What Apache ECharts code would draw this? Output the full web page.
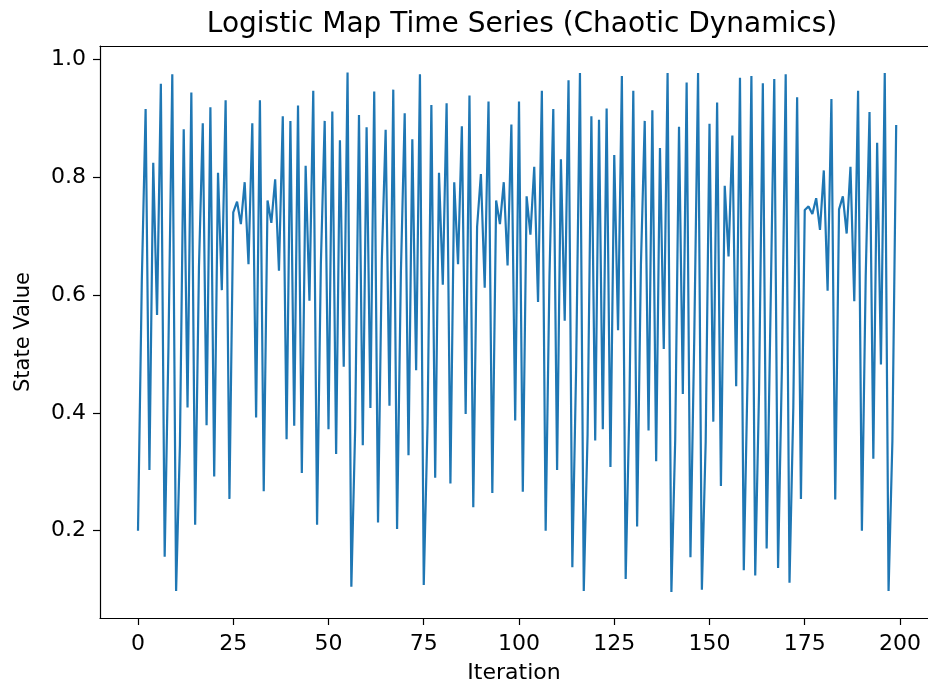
<!DOCTYPE html>
<html>
<head>
<meta charset="utf-8">
<script src="https://cdn.jsdelivr.net/npm/echarts@6/dist/echarts.min.js"></script>
<style>
  html, body { margin: 0; padding: 0; background: #fff; }
  #chart { width: 928px; height: 685px; }
</style>
</head>
<body>
<div id="chart"></div>
<script>
const titleText = 'Logistic Map Time Series (Chaotic Dynamics)';
const xName = 'Iteration';
const yName = 'State Value';
const xTicks = [0, 25, 50, 75, 100, 125, 150, 175, 200];
const yTicks = [0.2, 0.4, 0.6, 0.8, 1.0];
const stateValues = [
  0.200, 0.624, 0.915, 0.303, 0.824, 0.566, 0.958, 0.156, 0.514, 0.974,
  0.098, 0.345, 0.881, 0.409, 0.943, 0.210, 0.647, 0.891, 0.379, 0.918,
  0.292, 0.807, 0.608, 0.930, 0.254, 0.740, 0.758, 0.720, 0.791, 0.652,
  0.891, 0.392, 0.930, 0.267, 0.760, 0.722, 0.796, 0.641, 0.903, 0.355,
  0.895, 0.378, 0.921, 0.298, 0.819, 0.590, 0.946, 0.210, 0.654, 0.895,
  0.372, 0.911, 0.330, 0.862, 0.478, 0.977, 0.105, 0.373, 0.905, 0.345,
  0.884, 0.408, 0.945, 0.214, 0.660, 0.880, 0.412, 0.948, 0.203, 0.638,
  0.908, 0.328, 0.864, 0.472, 0.974, 0.108, 0.382, 0.922, 0.290, 0.807,
  0.617, 0.925, 0.280, 0.791, 0.652, 0.886, 0.398, 0.938, 0.240, 0.715,
  0.805, 0.612, 0.928, 0.264, 0.760, 0.720, 0.791, 0.650, 0.889, 0.387,
  0.928, 0.266, 0.767, 0.702, 0.817, 0.588, 0.946, 0.200, 0.631, 0.915,
  0.303, 0.830, 0.556, 0.964, 0.138, 0.478, 0.976, 0.098, 0.363, 0.903,
  0.353, 0.897, 0.372, 0.916, 0.308, 0.837, 0.540, 0.971, 0.118, 0.418,
  0.946, 0.207, 0.651, 0.895, 0.370, 0.913, 0.318, 0.849, 0.508, 0.976,
  0.096, 0.354, 0.885, 0.432, 0.960, 0.155, 0.527, 0.976, 0.100, 0.351,
  0.890, 0.385, 0.926, 0.276, 0.785, 0.665, 0.870, 0.445, 0.968, 0.133,
  0.464, 0.971, 0.124, 0.435, 0.959, 0.170, 0.566, 0.966, 0.137, 0.475,
  0.974, 0.112, 0.409, 0.935, 0.254, 0.744, 0.750, 0.737, 0.764, 0.710,
  0.811, 0.607, 0.932, 0.253, 0.745, 0.767, 0.704, 0.817, 0.589, 0.946,
  0.200, 0.631, 0.910, 0.322, 0.858, 0.482, 0.976, 0.098, 0.351, 0.888
];

const seriesData = stateValues.map((v, i) => [i, v]);
const font = 'DejaVu Sans';
const xMin = -9.974, xMax = 207.35;

const chart = echarts.init(document.getElementById('chart'), null, { renderer: 'canvas' });
chart.setOption({
  animation: false,
  backgroundColor: '#ffffff',
  title: {
    text: titleText,
    left: 517,
    top: 6,
    textAlign: 'center',
    textStyle: { fontFamily: font, fontSize: 28, fontWeight: 'normal', color: '#000' }
  },
  grid: {
    left: 100, top: 46, width: 828, height: 572,
    show: false, containLabel: false, outerBoundsMode: 'none'
  },
  xAxis: [{
    type: 'value', min: xMin, max: xMax, position: 'bottom',
    name: xName, nameLocation: 'middle', nameGap: 44,
    nameTextStyle: { fontFamily: font, fontSize: 22, color: '#000' },
    axisLine: { show: true, onZero: false, lineStyle: { color: '#000', width: 1.2 } },
    axisTick: { show: true, inside: false, length: 7, customValues: xTicks, lineStyle: { color: '#000', width: 1.2 } },
    axisLabel: { customValues: xTicks, fontFamily: font, fontSize: 22, color: '#000', margin: 15 },
    splitLine: { show: false }
  }, {
    type: 'value', min: xMin, max: xMax, position: 'top',
    axisLine: { show: true, onZero: false, lineStyle: { color: '#000', width: 1.2 } },
    axisTick: { show: false }, axisLabel: { show: false }, splitLine: { show: false }
  }],
  yAxis: {
    type: 'value', min: 0.052, max: 1.022,
    name: yName, nameLocation: 'middle', nameGap: 66, nameRotate: 90,
    nameTextStyle: { fontFamily: font, fontSize: 21, color: '#000' },
    axisLine: { show: true, onZero: false, lineStyle: { color: '#000', width: 1.2 } },
    axisTick: { show: true, inside: false, length: 7, customValues: yTicks, lineStyle: { color: '#000', width: 1.2 } },
    axisLabel: { customValues: yTicks, fontFamily: font, fontSize: 22, color: '#000', margin: 14,
      formatter: v => v.toFixed(1) },
    splitLine: { show: false }
  },
  series: [{
    type: 'line',
    xAxisIndex: 0,
    data: seriesData,
    showSymbol: false,
    symbol: 'none',
    lineStyle: { color: '#1f77b4', width: 2.2 },
    clip: true
  }]
});
</script>
</body>
</html>
